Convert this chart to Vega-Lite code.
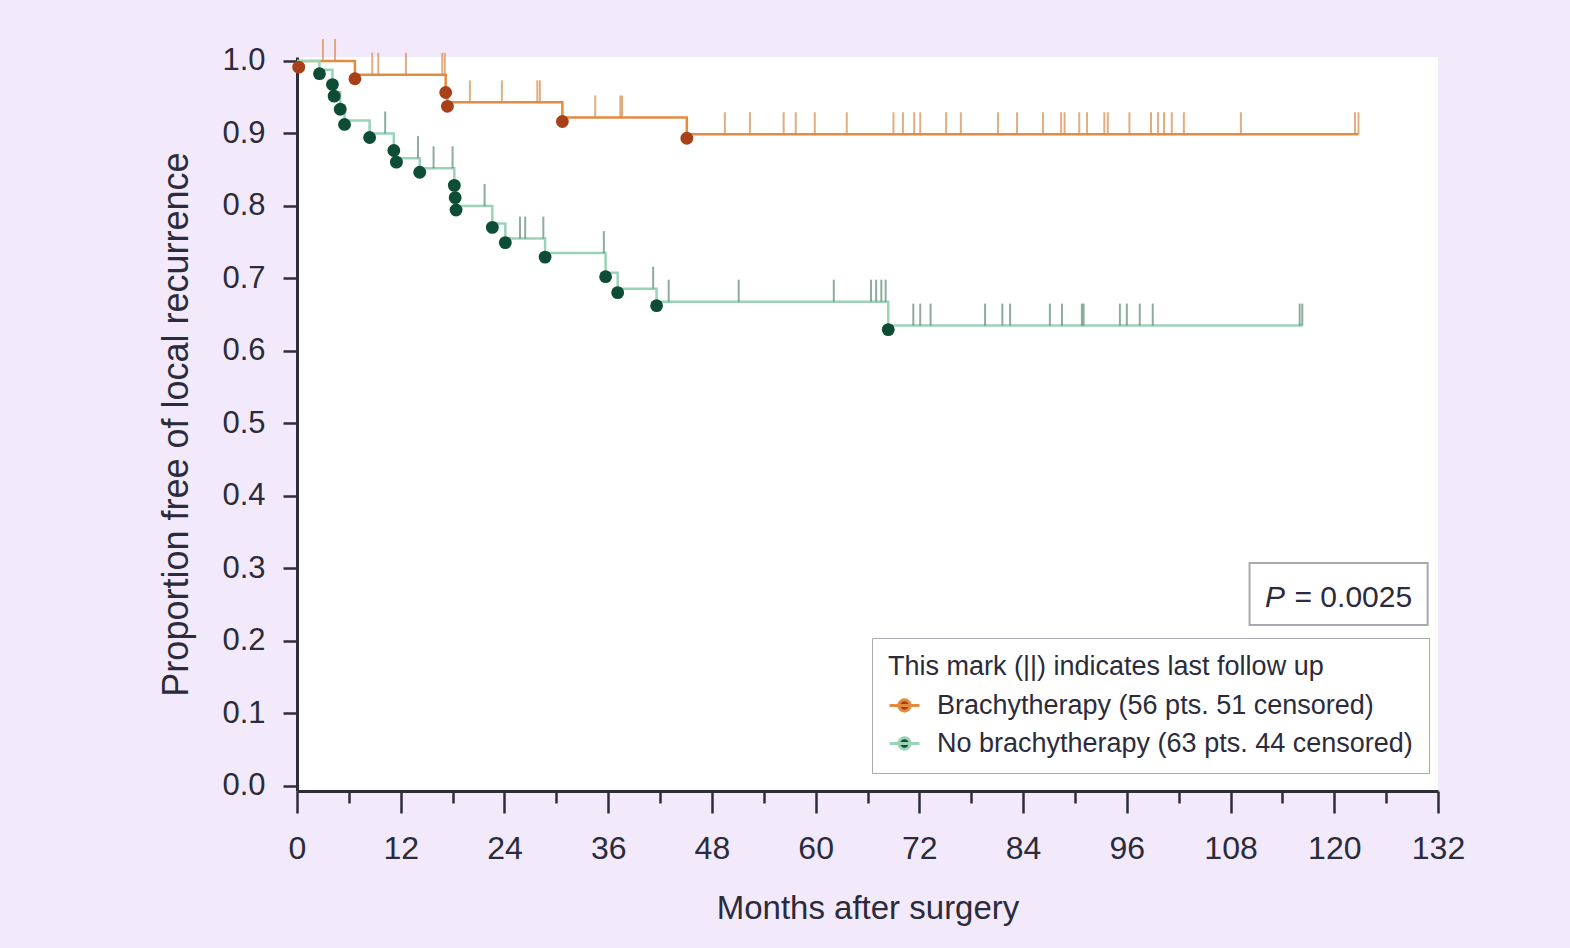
{
  "$schema": "https://vega.github.io/schema/vega-lite/v6.json",
  "width": 1141,
  "height": 734,
  "autosize": {"type": "none"},
  "padding": {"left": 297, "top": 57, "right": 132, "bottom": 157},
  "background": "#f2eafa",
  "config": {
    "view": {"fill": "white", "stroke": null},
    "font": "Liberation Sans",
    "text": {"font": "Liberation Sans"}
  },
  "datasets": {
    "curve": [
      {"group": "Brachytherapy (56 pts. 51 censored)", "month": 0, "surv": 1.0},
      {"group": "Brachytherapy (56 pts. 51 censored)", "month": 6.7, "surv": 0.981},
      {"group": "Brachytherapy (56 pts. 51 censored)", "month": 17.2, "surv": 0.962},
      {"group": "Brachytherapy (56 pts. 51 censored)", "month": 17.4, "surv": 0.943},
      {"group": "Brachytherapy (56 pts. 51 censored)", "month": 30.7, "surv": 0.922},
      {"group": "Brachytherapy (56 pts. 51 censored)", "month": 45.1, "surv": 0.899},
      {"group": "Brachytherapy (56 pts. 51 censored)", "month": 122.8, "surv": 0.899},
      {"group": "No brachytherapy (63 pts. 44 censored)", "month": 0, "surv": 1.0},
      {"group": "No brachytherapy (63 pts. 44 censored)", "month": 2.6, "surv": 0.988},
      {"group": "No brachytherapy (63 pts. 44 censored)", "month": 4.1, "surv": 0.973},
      {"group": "No brachytherapy (63 pts. 44 censored)", "month": 4.3, "surv": 0.957},
      {"group": "No brachytherapy (63 pts. 44 censored)", "month": 5.0, "surv": 0.939},
      {"group": "No brachytherapy (63 pts. 44 censored)", "month": 5.5, "surv": 0.918},
      {"group": "No brachytherapy (63 pts. 44 censored)", "month": 8.4, "surv": 0.9},
      {"group": "No brachytherapy (63 pts. 44 censored)", "month": 11.2, "surv": 0.882},
      {"group": "No brachytherapy (63 pts. 44 censored)", "month": 11.5, "surv": 0.866},
      {"group": "No brachytherapy (63 pts. 44 censored)", "month": 14.2, "surv": 0.852},
      {"group": "No brachytherapy (63 pts. 44 censored)", "month": 18.2, "surv": 0.834},
      {"group": "No brachytherapy (63 pts. 44 censored)", "month": 18.3, "surv": 0.817},
      {"group": "No brachytherapy (63 pts. 44 censored)", "month": 18.4, "surv": 0.8},
      {"group": "No brachytherapy (63 pts. 44 censored)", "month": 22.6, "surv": 0.776},
      {"group": "No brachytherapy (63 pts. 44 censored)", "month": 24.1, "surv": 0.755},
      {"group": "No brachytherapy (63 pts. 44 censored)", "month": 28.7, "surv": 0.735},
      {"group": "No brachytherapy (63 pts. 44 censored)", "month": 35.7, "surv": 0.708},
      {"group": "No brachytherapy (63 pts. 44 censored)", "month": 37.1, "surv": 0.686},
      {"group": "No brachytherapy (63 pts. 44 censored)", "month": 41.6, "surv": 0.668},
      {"group": "No brachytherapy (63 pts. 44 censored)", "month": 68.4, "surv": 0.635},
      {"group": "No brachytherapy (63 pts. 44 censored)", "month": 116.3, "surv": 0.635}
    ],
    "events": [
      {"group": "Brachytherapy (56 pts. 51 censored)", "month": 0.2, "surv": 0.997},
      {"group": "Brachytherapy (56 pts. 51 censored)", "month": 6.7, "surv": 0.981},
      {"group": "Brachytherapy (56 pts. 51 censored)", "month": 17.2, "surv": 0.962},
      {"group": "Brachytherapy (56 pts. 51 censored)", "month": 17.4, "surv": 0.943},
      {"group": "Brachytherapy (56 pts. 51 censored)", "month": 30.7, "surv": 0.922},
      {"group": "Brachytherapy (56 pts. 51 censored)", "month": 45.1, "surv": 0.899},
      {"group": "No brachytherapy (63 pts. 44 censored)", "month": 2.6, "surv": 0.988},
      {"group": "No brachytherapy (63 pts. 44 censored)", "month": 4.1, "surv": 0.973},
      {"group": "No brachytherapy (63 pts. 44 censored)", "month": 4.3, "surv": 0.957},
      {"group": "No brachytherapy (63 pts. 44 censored)", "month": 5.0, "surv": 0.939},
      {"group": "No brachytherapy (63 pts. 44 censored)", "month": 5.5, "surv": 0.918},
      {"group": "No brachytherapy (63 pts. 44 censored)", "month": 8.4, "surv": 0.9},
      {"group": "No brachytherapy (63 pts. 44 censored)", "month": 11.2, "surv": 0.882},
      {"group": "No brachytherapy (63 pts. 44 censored)", "month": 11.5, "surv": 0.866},
      {"group": "No brachytherapy (63 pts. 44 censored)", "month": 14.2, "surv": 0.852},
      {"group": "No brachytherapy (63 pts. 44 censored)", "month": 18.2, "surv": 0.834},
      {"group": "No brachytherapy (63 pts. 44 censored)", "month": 18.3, "surv": 0.817},
      {"group": "No brachytherapy (63 pts. 44 censored)", "month": 18.4, "surv": 0.8},
      {"group": "No brachytherapy (63 pts. 44 censored)", "month": 22.6, "surv": 0.776},
      {"group": "No brachytherapy (63 pts. 44 censored)", "month": 24.1, "surv": 0.755},
      {"group": "No brachytherapy (63 pts. 44 censored)", "month": 28.7, "surv": 0.735},
      {"group": "No brachytherapy (63 pts. 44 censored)", "month": 35.7, "surv": 0.708},
      {"group": "No brachytherapy (63 pts. 44 censored)", "month": 37.1, "surv": 0.686},
      {"group": "No brachytherapy (63 pts. 44 censored)", "month": 41.6, "surv": 0.668},
      {"group": "No brachytherapy (63 pts. 44 censored)", "month": 68.4, "surv": 0.635}
    ],
    "censor": [
      {"group": "Brachytherapy (56 pts. 51 censored)", "month": 3.0, "surv": 1.0},
      {"group": "Brachytherapy (56 pts. 51 censored)", "month": 4.4, "surv": 1.0},
      {"group": "Brachytherapy (56 pts. 51 censored)", "month": 8.7, "surv": 0.981},
      {"group": "Brachytherapy (56 pts. 51 censored)", "month": 9.4, "surv": 0.981},
      {"group": "Brachytherapy (56 pts. 51 censored)", "month": 12.6, "surv": 0.981},
      {"group": "Brachytherapy (56 pts. 51 censored)", "month": 16.8, "surv": 0.981},
      {"group": "Brachytherapy (56 pts. 51 censored)", "month": 17.1, "surv": 0.981},
      {"group": "Brachytherapy (56 pts. 51 censored)", "month": 20.0, "surv": 0.943},
      {"group": "Brachytherapy (56 pts. 51 censored)", "month": 23.7, "surv": 0.943},
      {"group": "Brachytherapy (56 pts. 51 censored)", "month": 27.8, "surv": 0.943},
      {"group": "Brachytherapy (56 pts. 51 censored)", "month": 28.1, "surv": 0.943},
      {"group": "Brachytherapy (56 pts. 51 censored)", "month": 34.5, "surv": 0.922},
      {"group": "Brachytherapy (56 pts. 51 censored)", "month": 37.4, "surv": 0.922},
      {"group": "Brachytherapy (56 pts. 51 censored)", "month": 37.6, "surv": 0.922},
      {"group": "Brachytherapy (56 pts. 51 censored)", "month": 49.5, "surv": 0.899},
      {"group": "Brachytherapy (56 pts. 51 censored)", "month": 52.4, "surv": 0.899},
      {"group": "Brachytherapy (56 pts. 51 censored)", "month": 56.3, "surv": 0.899},
      {"group": "Brachytherapy (56 pts. 51 censored)", "month": 57.7, "surv": 0.899},
      {"group": "Brachytherapy (56 pts. 51 censored)", "month": 59.9, "surv": 0.899},
      {"group": "Brachytherapy (56 pts. 51 censored)", "month": 63.6, "surv": 0.899},
      {"group": "Brachytherapy (56 pts. 51 censored)", "month": 69.0, "surv": 0.899},
      {"group": "Brachytherapy (56 pts. 51 censored)", "month": 70.1, "surv": 0.899},
      {"group": "Brachytherapy (56 pts. 51 censored)", "month": 71.4, "surv": 0.899},
      {"group": "Brachytherapy (56 pts. 51 censored)", "month": 72.1, "surv": 0.899},
      {"group": "Brachytherapy (56 pts. 51 censored)", "month": 75.1, "surv": 0.899},
      {"group": "Brachytherapy (56 pts. 51 censored)", "month": 76.8, "surv": 0.899},
      {"group": "Brachytherapy (56 pts. 51 censored)", "month": 81.1, "surv": 0.899},
      {"group": "Brachytherapy (56 pts. 51 censored)", "month": 83.3, "surv": 0.899},
      {"group": "Brachytherapy (56 pts. 51 censored)", "month": 86.3, "surv": 0.899},
      {"group": "Brachytherapy (56 pts. 51 censored)", "month": 88.4, "surv": 0.899},
      {"group": "Brachytherapy (56 pts. 51 censored)", "month": 88.8, "surv": 0.899},
      {"group": "Brachytherapy (56 pts. 51 censored)", "month": 90.5, "surv": 0.899},
      {"group": "Brachytherapy (56 pts. 51 censored)", "month": 91.4, "surv": 0.899},
      {"group": "Brachytherapy (56 pts. 51 censored)", "month": 93.4, "surv": 0.899},
      {"group": "Brachytherapy (56 pts. 51 censored)", "month": 93.8, "surv": 0.899},
      {"group": "Brachytherapy (56 pts. 51 censored)", "month": 96.3, "surv": 0.899},
      {"group": "Brachytherapy (56 pts. 51 censored)", "month": 98.8, "surv": 0.899},
      {"group": "Brachytherapy (56 pts. 51 censored)", "month": 99.6, "surv": 0.899},
      {"group": "Brachytherapy (56 pts. 51 censored)", "month": 100.3, "surv": 0.899},
      {"group": "Brachytherapy (56 pts. 51 censored)", "month": 101.2, "surv": 0.899},
      {"group": "Brachytherapy (56 pts. 51 censored)", "month": 102.6, "surv": 0.899},
      {"group": "Brachytherapy (56 pts. 51 censored)", "month": 109.2, "surv": 0.899},
      {"group": "Brachytherapy (56 pts. 51 censored)", "month": 122.4, "surv": 0.899},
      {"group": "Brachytherapy (56 pts. 51 censored)", "month": 122.8, "surv": 0.899},
      {"group": "No brachytherapy (63 pts. 44 censored)", "month": 10.2, "surv": 0.9},
      {"group": "No brachytherapy (63 pts. 44 censored)", "month": 14.0, "surv": 0.866},
      {"group": "No brachytherapy (63 pts. 44 censored)", "month": 15.8, "surv": 0.852},
      {"group": "No brachytherapy (63 pts. 44 censored)", "month": 18.0, "surv": 0.852},
      {"group": "No brachytherapy (63 pts. 44 censored)", "month": 21.7, "surv": 0.8},
      {"group": "No brachytherapy (63 pts. 44 censored)", "month": 25.8, "surv": 0.755},
      {"group": "No brachytherapy (63 pts. 44 censored)", "month": 26.4, "surv": 0.755},
      {"group": "No brachytherapy (63 pts. 44 censored)", "month": 28.5, "surv": 0.755},
      {"group": "No brachytherapy (63 pts. 44 censored)", "month": 35.5, "surv": 0.735},
      {"group": "No brachytherapy (63 pts. 44 censored)", "month": 41.2, "surv": 0.686},
      {"group": "No brachytherapy (63 pts. 44 censored)", "month": 43.0, "surv": 0.668},
      {"group": "No brachytherapy (63 pts. 44 censored)", "month": 51.1, "surv": 0.668},
      {"group": "No brachytherapy (63 pts. 44 censored)", "month": 62.1, "surv": 0.668},
      {"group": "No brachytherapy (63 pts. 44 censored)", "month": 66.4, "surv": 0.668},
      {"group": "No brachytherapy (63 pts. 44 censored)", "month": 67.0, "surv": 0.668},
      {"group": "No brachytherapy (63 pts. 44 censored)", "month": 67.6, "surv": 0.668},
      {"group": "No brachytherapy (63 pts. 44 censored)", "month": 68.1, "surv": 0.668},
      {"group": "No brachytherapy (63 pts. 44 censored)", "month": 71.3, "surv": 0.635},
      {"group": "No brachytherapy (63 pts. 44 censored)", "month": 72.1, "surv": 0.635},
      {"group": "No brachytherapy (63 pts. 44 censored)", "month": 73.3, "surv": 0.635},
      {"group": "No brachytherapy (63 pts. 44 censored)", "month": 79.6, "surv": 0.635},
      {"group": "No brachytherapy (63 pts. 44 censored)", "month": 81.6, "surv": 0.635},
      {"group": "No brachytherapy (63 pts. 44 censored)", "month": 82.5, "surv": 0.635},
      {"group": "No brachytherapy (63 pts. 44 censored)", "month": 87.1, "surv": 0.635},
      {"group": "No brachytherapy (63 pts. 44 censored)", "month": 88.5, "surv": 0.635},
      {"group": "No brachytherapy (63 pts. 44 censored)", "month": 90.8, "surv": 0.635},
      {"group": "No brachytherapy (63 pts. 44 censored)", "month": 91.0, "surv": 0.635},
      {"group": "No brachytherapy (63 pts. 44 censored)", "month": 95.2, "surv": 0.635},
      {"group": "No brachytherapy (63 pts. 44 censored)", "month": 96.0, "surv": 0.635},
      {"group": "No brachytherapy (63 pts. 44 censored)", "month": 97.5, "surv": 0.635},
      {"group": "No brachytherapy (63 pts. 44 censored)", "month": 99.0, "surv": 0.635},
      {"group": "No brachytherapy (63 pts. 44 censored)", "month": 116.0, "surv": 0.635},
      {"group": "No brachytherapy (63 pts. 44 censored)", "month": 116.3, "surv": 0.635}
    ],
    "pvalue": [{"label": "= 0.0025"}]
  },
  "resolve": {"scale": {"color": "independent"}},
  "layer": [
    {
      "data": {"name": "curve"},
      "mark": {"type": "line", "interpolate": "step-after", "strokeWidth": 2.5},
      "encoding": {
        "x": {
          "field": "month", "type": "quantitative",
          "scale": {"domain": [0, 132], "nice": false, "zero": false},
          "axis": {
            "title": "Months after surgery",
            "values": [0, 6, 12, 18, 24, 30, 36, 42, 48, 54, 60, 66, 72, 78, 84, 90, 96, 102, 108, 114, 120, 126, 132],
            "labelExpr": "datum.value % 12 === 0 ? datum.label : ''",
            "labelOverlap": false,
            "labelFlush": false,
            "grid": false,
            "domainColor": "#2e2e38", "domainWidth": 3,
            "tickColor": "#2e2e38", "tickWidth": 2.5,
            "tickSize": {"condition": {"test": "datum.value % 12 === 0", "value": 22}, "value": 12},
            "labelFontSize": 32, "labelColor": "#2b2b3b", "labelPadding": 20,
            "titleFontSize": 33, "titleFontWeight": "normal", "titleColor": "#2b2b3b", "titlePadding": 28
          }
        },
        "y": {
          "field": "surv", "type": "quantitative",
          "scale": {"domain": [-0.0069, 1.0055], "nice": false, "zero": false},
          "axis": {
            "title": "Proportion free of local recurrence",
            "values": [0, 0.1, 0.2, 0.3, 0.4, 0.5, 0.6, 0.7, 0.8, 0.9, 1.0],
            "format": ".1f",
            "grid": false,
            "domainColor": "#2e2e38", "domainWidth": 3,
            "tickColor": "#2e2e38", "tickWidth": 2.5, "tickSize": 14,
            "labelFontSize": 31, "labelColor": "#2b2b3b", "labelPadding": 18,
            "titleFontSize": 36, "titleFontWeight": "normal", "titleColor": "#2b2b3b", "titlePadding": 26
          }
        },
        "color": {
          "field": "group", "type": "nominal",
          "scale": {
            "domain": ["Brachytherapy (56 pts. 51 censored)", "No brachytherapy (63 pts. 44 censored)"],
            "range": ["#e38b3f", "#9ad3b8"]
          },
          "legend": {
            "orient": "none", "legendX": 575, "legendY": 581,
            "title": "This mark (||) indicates last follow up",
            "titleFontSize": 27, "titleFontWeight": "normal", "titleColor": "#2b2b3b", "titleLimit": 0,
            "titlePadding": 8,
            "labelFontSize": 27, "labelColor": "#2b2b3b", "labelLimit": 0,
            "labelOffset": 16,
            "rowPadding": 8,
            "padding": 16,
            "fillColor": "white", "strokeColor": "#a9a9b0",
            "symbolType": "M-1,0H1M-0.38,0A0.38,0.38 0 1,1 0.38,0A0.38,0.38 0 1,1 -0.38,0Z",
            "symbolSize": 900,
            "symbolStrokeWidth": 3,
            "encode": {
              "symbols": {"update": {
                "fill": {"signal": "indexof(datum.value, 'No') === 0 ? '#0d4d35' : '#a8401a'"},
                "stroke": {"signal": "indexof(datum.value, 'No') === 0 ? '#9ad3b8' : '#e38b3f'"},
                "fillOpacity": {"value": 1},
                "strokeWidth": {"value": 3}
              }}
            }
          }
        }
      }
    },
    {
      "data": {"name": "censor"},
      "mark": {"type": "tick", "orient": "vertical", "size": 22, "thickness": 2, "yOffset": -11},
      "encoding": {
        "x": {"field": "month", "type": "quantitative"},
        "y": {"field": "surv", "type": "quantitative"},
        "color": {
          "field": "group", "type": "nominal",
          "scale": {
            "domain": ["Brachytherapy (56 pts. 51 censored)", "No brachytherapy (63 pts. 44 censored)"],
            "range": ["#d98a48", "#5b8a74"]
          },
          "legend": null
        }
      }
    },
    {
      "data": {"name": "events"},
      "mark": {"type": "circle", "size": 165, "opacity": 1, "yOffset": 4},
      "encoding": {
        "x": {"field": "month", "type": "quantitative"},
        "y": {"field": "surv", "type": "quantitative"},
        "color": {
          "field": "group", "type": "nominal",
          "scale": {
            "domain": ["Brachytherapy (56 pts. 51 censored)", "No brachytherapy (63 pts. 44 censored)"],
            "range": ["#a8401a", "#0d4d35"]
          },
          "legend": null
        }
      }
    },
    {
      "data": {"name": "pvalue"},
      "mark": {"type": "rect", "fill": "white", "stroke": "#a9a9b0", "strokeWidth": 2},
      "encoding": {
        "x": {"datum": 110.2, "type": "quantitative"},
        "x2": {"datum": 130.8},
        "y": {"datum": 0.3076, "type": "quantitative"},
        "y2": {"datum": 0.222}
      }
    },
    {
      "data": {"name": "pvalue"},
      "mark": {"type": "text", "text": "P", "fontStyle": "italic", "fontSize": 30, "align": "left", "baseline": "middle", "color": "#2b2b3b"},
      "encoding": {
        "x": {"datum": 112.0, "type": "quantitative"},
        "y": {"datum": 0.259, "type": "quantitative"}
      }
    },
    {
      "data": {"name": "pvalue"},
      "mark": {"type": "text", "fontSize": 30, "align": "left", "baseline": "middle", "color": "#2b2b3b"},
      "encoding": {
        "text": {"field": "label"},
        "x": {"datum": 115.4, "type": "quantitative"},
        "y": {"datum": 0.259, "type": "quantitative"}
      }
    }
  ]
}
